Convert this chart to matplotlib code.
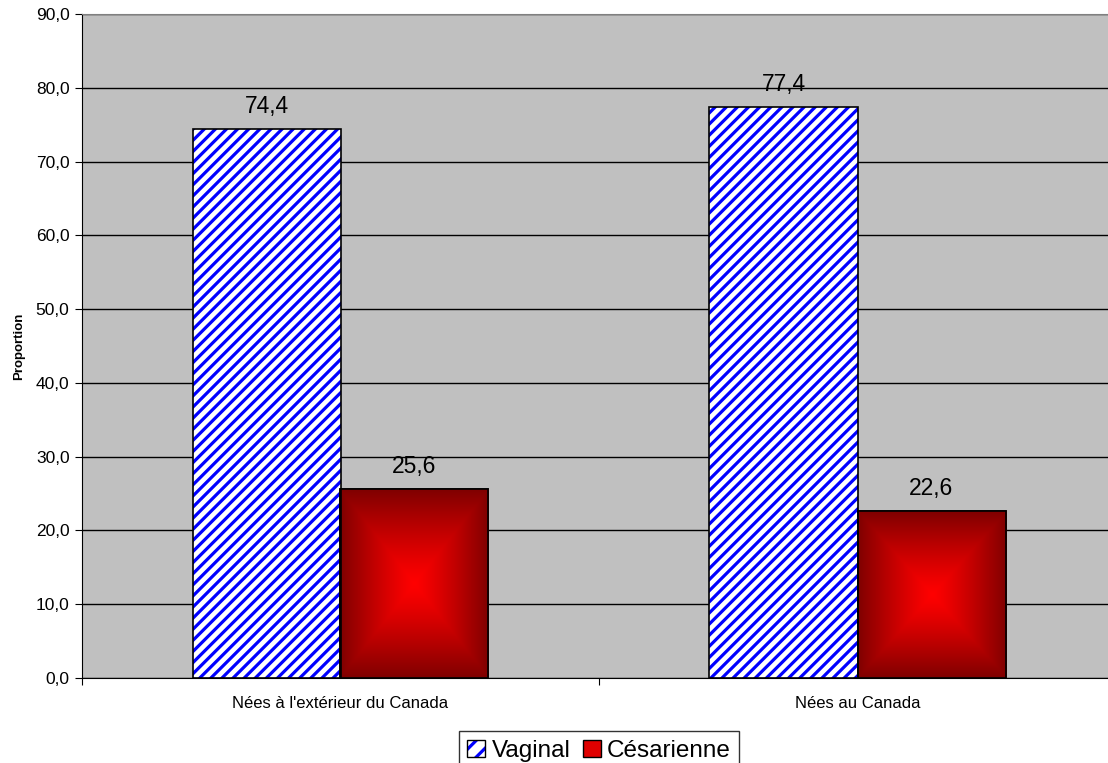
import matplotlib.pyplot as plt
import numpy as np
from matplotlib.patches import Patch

plt.rcParams['font.family'] = ['Liberation Sans', 'DejaVu Sans']
plt.rcParams['hatch.linewidth'] = 2.3

categories = ["Nées à l'extérieur du Canada", "Nées au Canada"]
vaginal = [74.4, 77.4]
cesarienne = [25.6, 22.6]
series_names = ['Vaginal', 'Césarienne']
yticks = [0, 10, 20, 30, 40, 50, 60, 70, 80, 90]

fig = plt.figure(figsize=(11.08, 7.63), dpi=100)
# plot area runs slightly past the right edge like in the original
ax = fig.add_axes([82/1108, 1-678/763, (1116-82)/1108, (678-14)/763])
ax.set_facecolor('#C0C0C0')

centers = np.arange(len(categories)) + 0.5
w = 148/517

ax.set_axisbelow(True)
ax.grid(axis='y', color='black', linewidth=1)

# hatch takes the edge colour, so blue edge without line, then a black outline
b1 = ax.bar(centers - w/2, vaginal, width=w, facecolor='white', edgecolor='#0000FF',
            hatch='///', linewidth=0, zorder=3)
b2 = ax.bar(centers + w/2, cesarienne, width=w, facecolor='#FF0000', edgecolor='black',
            linewidth=1.2, zorder=3)

# rectangular "from centre" gradient on the red bars
n = 200
u = np.linspace(-1, 1, n)
U, V = np.meshgrid(u, u)
t = np.maximum(np.abs(U), np.abs(V))
t = t ** 1.2
rgb = np.zeros((n, n, 3))
rgb[..., 0] = 1.0 - 0.5 * t
for r in b2:
    x0, y0 = r.get_x(), r.get_y()
    ax.imshow(rgb, extent=(x0, x0 + r.get_width(), y0, y0 + r.get_height()),
              aspect='auto', interpolation='bilinear', zorder=3.5)
for r in list(b1) + list(b2):
    ax.add_patch(plt.Rectangle((r.get_x(), r.get_y()), r.get_width(), r.get_height(),
                               fill=False, edgecolor='black', linewidth=1.2, zorder=4))

for bars in (b1, b2):
    for r in bars:
        h = r.get_height()
        ax.annotate(f'{h:.1f}'.replace('.', ','), (r.get_x() + r.get_width()/2, h),
                    xytext=(0, 8), textcoords='offset points', ha='center', va='bottom',
                    fontsize=16.5)

ax.set_xlim(0, len(categories))
ax.set_ylim(0, 90)
ax.set_yticks(yticks)
ax.set_yticklabels([f'{v:.1f}'.replace('.', ',') for v in yticks], fontsize=12.5)
ax.set_xticks([0, 1, 2])
ax.set_xticklabels([])
ax.set_xticks(centers, minor=True)
ax.set_xticklabels(categories, minor=True, fontsize=12)
ax.tick_params(axis='x', which='minor', length=0, pad=13)
ax.tick_params(axis='x', which='major', length=5, color='black')
ax.tick_params(axis='y', length=5, pad=4)

ax.set_ylabel('Proportion', fontsize=9.5, fontweight='bold', labelpad=8)

ax.spines['top'].set_color('#808080')
ax.spines['right'].set_visible(False)
ax.spines['left'].set_color('black')
ax.spines['bottom'].set_color('black')

outline = Patch(fill=False, edgecolor='black', linewidth=1)
handles = [(Patch(facecolor='white', edgecolor='#0000FF', hatch='//', linewidth=0), outline),
           Patch(facecolor='#E00000', edgecolor='black', linewidth=1)]
leg = fig.legend(handles, series_names, loc='upper center',
                 bbox_to_anchor=(599/1108, 1-731/763), ncol=2, fontsize=17.5,
                 frameon=True, fancybox=False, edgecolor='black', handlelength=0.75,
                 handleheight=0.75, handletextpad=0.25, columnspacing=0.5,
                 borderpad=0.35, borderaxespad=0)
leg.get_frame().set_linewidth(1)

fig.savefig('out.png', dpi=100)
